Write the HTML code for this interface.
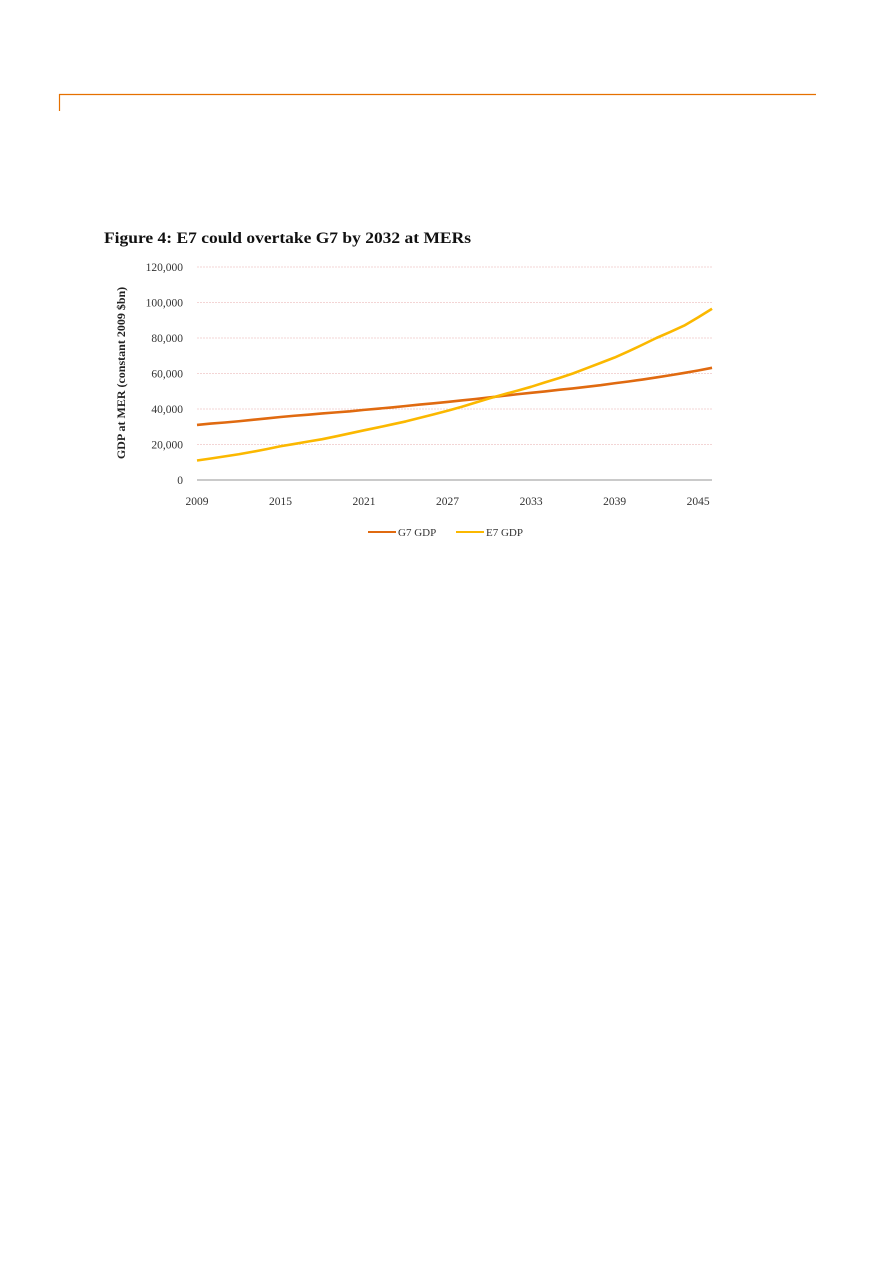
<!DOCTYPE html>
<html><head><meta charset="utf-8"><style>
body{margin:0;background:#fff;width:893px;height:1263px;overflow:hidden;font-family:"Liberation Serif",serif;}
</style></head><body>
<svg width="893" height="1263" style="position:absolute;left:0;top:0">
<g>
<line x1="59" y1="94.5" x2="816" y2="94.5" stroke="#e57000" stroke-width="1.2"/>
<line x1="59.5" y1="94" x2="59.5" y2="111" stroke="#e57000" stroke-width="1.2"/>
</g>
<text x="104" y="243" font-size="16" font-weight="bold" fill="#111" textLength="367" lengthAdjust="spacingAndGlyphs">Figure 4: E7 could overtake G7 by 2032 at MERs</text>
<text transform="translate(125,373) rotate(-90)" text-anchor="middle" font-size="12" font-weight="bold" fill="#222">GDP at MER (constant 2009 $bn)</text>
<g id="grid"></g><g id="yt"></g><g id="xt"></g><g id="lines"></g>
<g>
<line x1="368" y1="532" x2="396" y2="532" stroke="#e06a10" stroke-width="2"/>
<text x="398" y="536" font-size="11" fill="#333">G7 GDP</text>
<line x1="456" y1="532" x2="484" y2="532" stroke="#fbb800" stroke-width="2"/>
<text x="486" y="536" font-size="11" fill="#333">E7 GDP</text>
</g>
</svg>
<script>
const years=[];for(let y=2009;y<=2046;y++)years.push(y);
const g7=[31000,31800,32400,33100,33900,34700,35500,36200,36800,37500,38100,38700,39500,40200,40900,41700,42500,43200,44000,44800,45600,46500,47400,48300,49100,49900,50800,51600,52500,53400,54500,55500,56600,57800,59000,60300,61700,63200,65000].slice(0,38);
const e7=[11000,12100,13300,14500,15900,17400,19000,20300,21700,23000,24600,26300,28000,29600,31300,33000,35000,37000,39000,41200,43600,46000,48200,50300,52500,55000,57400,60000,63000,66000,69000,72500,76200,80000,83400,87000,91600,96500];
const ticks=[0,20000,40000,60000,80000,100000,120000];
const xlabels=[2009,2015,2021,2027,2033,2039,2045];
const X=y=>197+(y-2009)*13.92, Y=v=>480-v*(213/120000);
const NS="http://www.w3.org/2000/svg";
function mk(tag,parent,attrs){const e=document.createElementNS(NS,tag);for(const k in attrs)e.setAttribute(k,attrs[k]);document.getElementById(parent).appendChild(e);return e;}
ticks.forEach(t=>{
 const l=mk('line','grid',{x1:197,x2:712,y1:Y(t),y2:Y(t),stroke:t?'#f0c8c8':'#aaa','stroke-width':t?0.8:1.2,'stroke-dasharray':t?'2,1':''});
 
 
 const tx=mk('text','yt',{x:183,y:Y(t)+4,'text-anchor':'end','font-size':11.5,fill:'#333'});
 tx.textContent=t.toLocaleString('en-US');
 
 
});
xlabels.forEach(y=>{
 const tx=mk('text','xt',{x:X(y),y:505,'text-anchor':'middle','font-size':11.5,fill:'#333'});
 tx.textContent=y;
 
 
});
function line(data,color,name){
 const p=mk('polyline','lines',{points:data.map((v,i)=>X(years[i])+','+Y(v)).join(' '),fill:'none',stroke:color,'stroke-width':2.6,'stroke-linejoin':'round'});
 
 
}
line(g7,'#e06a10','g7-gdp-line');
line(e7,'#fbb800','e7-gdp-line');
</script>
</body></html>
